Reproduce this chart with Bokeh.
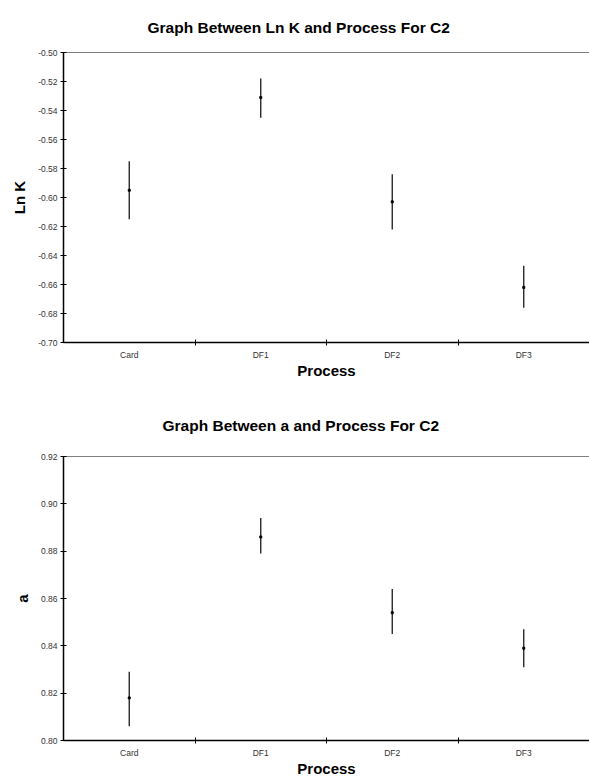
from bokeh.plotting import figure
from bokeh.models import Range1d, FixedTicker, NumeralTickFormatter, LinearAxis
from bokeh.layouts import column
from bokeh.embed import file_html
from bokeh.resources import INLINE

categories = ["Card", "DF1", "DF2", "DF3"]

lnk_mean = [-0.595, -0.531, -0.603, -0.662]
lnk_low = [-0.615, -0.545, -0.622, -0.676]
lnk_high = [-0.575, -0.518, -0.584, -0.647]
lnk_ticks = [-0.70, -0.68, -0.66, -0.64, -0.62, -0.60, -0.58, -0.56, -0.54, -0.52, -0.50]

a_mean = [0.818, 0.886, 0.854, 0.839]
a_low = [0.806, 0.879, 0.845, 0.831]
a_high = [0.829, 0.894, 0.864, 0.847]
a_ticks = [0.80, 0.82, 0.84, 0.86, 0.88, 0.90, 0.92]

FONT = "Liberation Sans"


def make_chart(title, ylabel, mean, low, high, ticks, height, left, top, bottom, title_offset, title_standoff):
    xs = [i + 0.5 for i in range(len(categories))]
    bounds = [float(i) for i in range(1, len(categories))]
    p = figure(width=589, height=height, output_backend="svg", toolbar_location=None,
               x_range=Range1d(0, len(categories)), y_range=Range1d(ticks[0], ticks[-1]),
               min_border_left=left, min_border_right=0, min_border_top=top,
               min_border_bottom=bottom)
    p.title.text = title
    p.title.align = "left"
    p.title.offset = title_offset
    p.title.standoff = title_standoff
    p.title.text_font = FONT
    p.title.text_font_size = "15.5px"
    p.title.text_font_style = "bold"
    p.title.text_color = "#000000"

    p.xgrid.visible = False
    p.ygrid.visible = False
    p.outline_line_color = None
    p.background_fill_color = "white"
    p.border_fill_color = "white"

    top_line = LinearAxis(ticker=FixedTicker(ticks=[], minor_ticks=[]),
                          axis_line_color="#808080", axis_line_width=1,
                          major_tick_line_color=None, minor_tick_line_color=None,
                          major_label_text_font_size="0px")
    p.add_layout(top_line, "above")

    xa = p.below[0]
    xa.ticker = FixedTicker(ticks=xs, minor_ticks=bounds)
    xa.major_label_overrides = {x: c for x, c in zip(xs, categories)}
    xa.major_tick_in = 0
    xa.major_tick_out = 0
    xa.minor_tick_in = 3
    xa.minor_tick_out = 3
    xa.minor_tick_line_color = "black"
    xa.axis_line_color = "black"
    xa.axis_line_width = 1.5
    xa.major_label_standoff = 4
    xa.major_label_text_font = FONT
    xa.major_label_text_font_size = "8.5px"
    xa.major_label_text_color = "#333333"
    xa.axis_label = "Process"
    xa.axis_label_text_font = FONT
    xa.axis_label_text_font_size = "15px"
    xa.axis_label_text_font_style = "bold"
    xa.axis_label_text_color = "#000000"
    xa.axis_label_standoff = -1

    ya = p.left[0]
    ya.ticker = FixedTicker(ticks=ticks, minor_ticks=[])
    ya.formatter = NumeralTickFormatter(format="0.00")
    ya.major_tick_in = 3
    ya.major_tick_out = 3
    ya.major_tick_line_color = "black"
    ya.axis_line_color = "black"
    ya.axis_line_width = 1.5
    ya.major_label_standoff = 3
    ya.major_label_text_font = FONT
    ya.major_label_text_font_size = "8.5px"
    ya.major_label_text_color = "#333333"
    ya.axis_label = ylabel
    ya.axis_label_text_font = FONT
    ya.axis_label_text_font_size = "15px"
    ya.axis_label_text_font_style = "bold"
    ya.axis_label_text_color = "#000000"
    ya.axis_label_standoff = 7

    p.segment(x0=xs, x1=xs, y0=low, y1=high, line_color="#1a1a1a", line_width=1.3)
    p.scatter(x=xs, y=mean, marker="square", size=2, color="black")
    return p


p1 = make_chart("Graph Between Ln K and Process For C2", "Ln K",
                lnk_mean, lnk_low, lnk_high, lnk_ticks, 390, 63, 52, 48, 84, 33)
p2 = make_chart("Graph Between a and Process For C2", "a",
                a_mean, a_low, a_high, a_ticks, 389, 60, 66, 39, 99, 46)

layout = column(p1, p2, spacing=0)
open("out.html", "w").write(file_html(layout, INLINE))
